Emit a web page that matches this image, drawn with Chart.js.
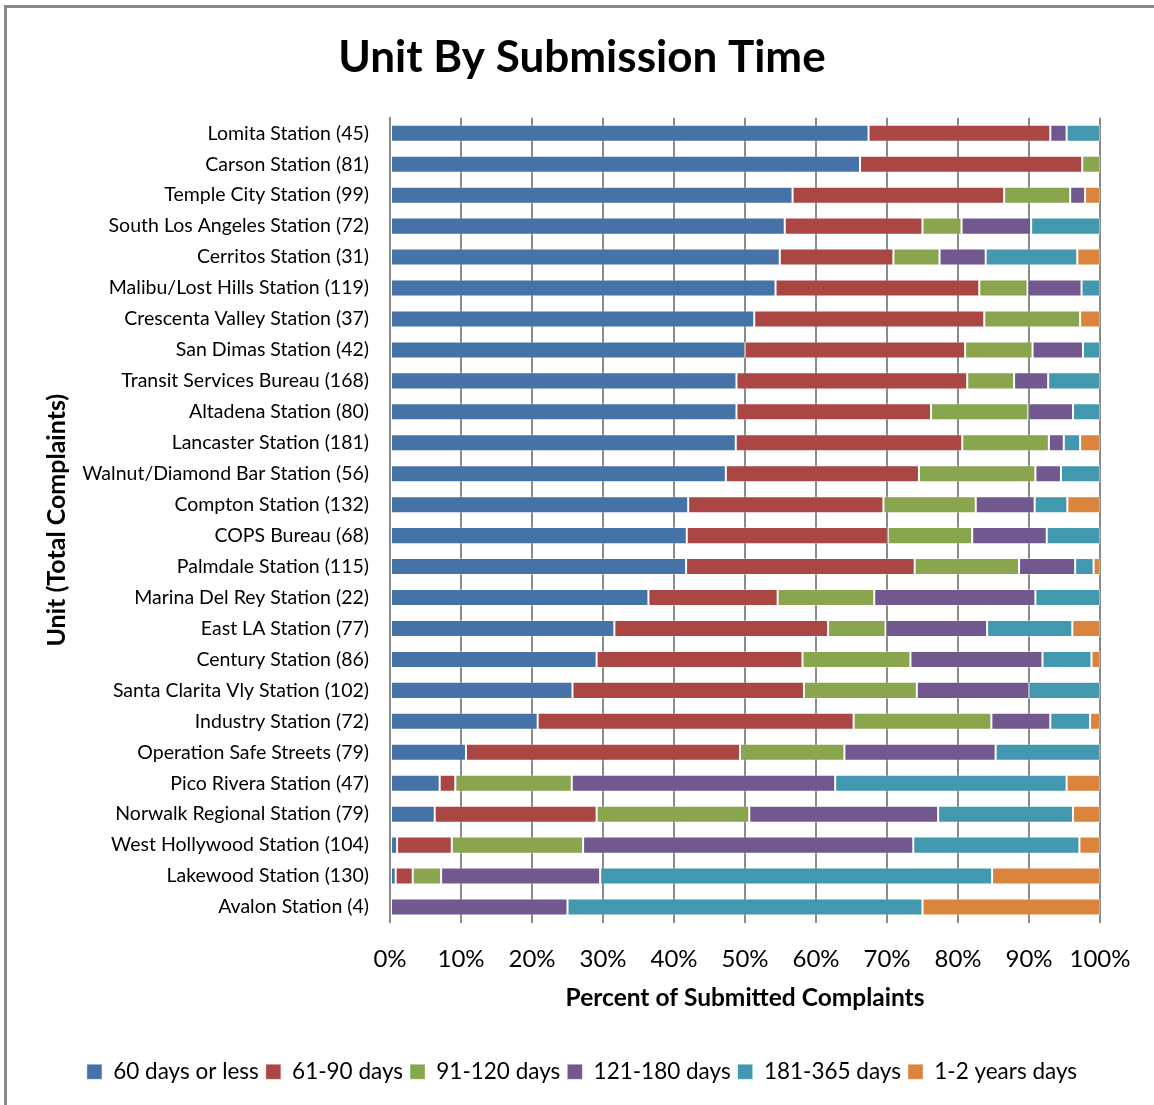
<!DOCTYPE html>
<html>
<head>
<meta charset="utf-8">
<script src="https://cdn.jsdelivr.net/npm/chart.js@4.4.0/dist/chart.umd.min.js"></script>
<style>
  html, body { margin: 0; padding: 0; background: #fff; }
  #wrap { position: relative; width: 1154px; height: 1105px; }
  #frame { position: absolute; left: 4px; top: 5px; right: -10px; bottom: -10px;
           border-left: 3px solid #8a8a8a; border-top: 3px solid #8a8a8a; pointer-events: none; }
  canvas { position: absolute; left: 0; top: 0; }
</style>
</head>
<body>
<div id="wrap">
  <canvas id="canvas" width="1154" height="1105"></canvas>
  <div id="frame"></div>
</div>
<script>
const units = [
    'Lomita Station (45)',
    'Carson Station (81)',
    'Temple City Station (99)',
    'South Los Angeles Station (72)',
    'Cerritos Station (31)',
    'Malibu/Lost Hills Station (119)',
    'Crescenta Valley Station (37)',
    'San Dimas Station (42)',
    'Transit Services Bureau (168)',
    'Altadena Station (80)',
    'Lancaster Station (181)',
    'Walnut/Diamond Bar Station (56)',
    'Compton Station (132)',
    'COPS Bureau (68)',
    'Palmdale Station (115)',
    'Marina Del Rey Station (22)',
    'East LA Station (77)',
    'Century Station (86)',
    'Santa Clarita Vly Station (102)',
    'Industry Station (72)',
    'Operation Safe Streets (79)',
    'Pico Rivera Station (47)',
    'Norwalk Regional Station (79)',
    'West Hollywood Station (104)',
    'Lakewood Station (130)',
    'Avalon Station (4)'
];

// percent of complaints per unit
const days60 = [67.4, 66.2, 56.7, 55.6, 54.9, 54.3, 51.3, 50.0, 48.8, 48.8, 48.7, 47.3, 42.0, 41.8, 41.7, 36.4, 31.6, 29.1, 25.7, 20.8, 10.7, 7.0, 6.3, 1.0, 0.8, 0];
const days61to90 = [25.6, 31.3, 29.8, 19.4, 16.0, 28.7, 32.4, 31.0, 32.5, 27.4, 31.9, 27.2, 27.5, 28.3, 32.2, 18.2, 30.1, 29.0, 32.6, 44.5, 38.6, 2.2, 22.8, 7.7, 2.4, 0];
const days91to120 = [0, 2.5, 9.3, 5.5, 6.5, 6.8, 13.5, 9.5, 6.6, 13.7, 12.2, 16.4, 13.0, 11.9, 14.7, 13.6, 8.1, 15.2, 15.9, 19.4, 14.7, 16.4, 21.5, 18.5, 4.0, 0];
const days121to180 = [2.3, 0, 2.1, 9.8, 6.5, 7.6, 0, 7.1, 4.8, 6.3, 2.1, 3.6, 8.3, 10.5, 7.9, 22.7, 14.3, 18.6, 15.8, 8.3, 21.3, 37.1, 26.6, 46.5, 22.4, 25];
const days181to365 = [4.7, 0, 0, 9.7, 12.9, 2.6, 0, 2.4, 7.3, 3.8, 2.3, 5.5, 4.6, 7.5, 2.6, 9.1, 12.0, 6.9, 10.0, 5.6, 14.7, 32.6, 19.0, 23.4, 55.2, 50];
const years1to2 = [0, 0, 2.1, 0, 3.2, 0, 2.8, 0, 0, 0, 2.8, 0, 4.6, 0, 0.9, 0, 3.9, 1.2, 0, 1.4, 0, 4.7, 3.8, 2.9, 15.2, 25];

const seriesNames = ['60 days or less', '61-90 days', '91-120 days', '121-180 days', '181-365 days', '1-2 years days'];
const seriesData = [days60, days61to90, days91to120, days121to180, days181to365, years1to2];
const colors = ['#4572A7', '#AA4643', '#89A54E', '#71588F', '#4198AF', '#DB843D'];

const FONT = 'Lato, "Noto Sans", sans-serif';

const datasets = seriesNames.map((name, i) => ({
    label: name,
    data: seriesData[i],
    backgroundColor: colors[i],
    borderColor: 'rgba(255,255,255,0.35)',
    borderWidth: 1,
    borderSkipped: false,
    barPercentage: 0.55,
    categoryPercentage: 1
}));

const ctx = document.getElementById('canvas').getContext('2d');
const myChart = new Chart(ctx, {
    type: 'bar',
    data: {
        labels: units,
        datasets: datasets
    },
    options: {
        indexAxis: 'y',
        responsive: false,
        animation: false,
        layout: {
            padding: { left: 64, right: 54, top: 0, bottom: 12 }
        },
        plugins: {
            tooltip: { enabled: false },
            title: {
                display: true,
                text: 'Unit By Submission Time',
                color: '#000',
                font: { family: FONT, size: 44, weight: 'bold', lineHeight: 1.2 },
                padding: { top: 31, bottom: 34 }
            },
            legend: {
                position: 'bottom',
                labels: {
                    color: '#000',
                    font: { family: FONT, size: 22.5 },
                    boxWidth: 15,
                    boxHeight: 15,
                    padding: 7
                }
            }
        },
        scales: {
            x: {
                stacked: true,
                min: 0,
                max: 100,
                afterFit: function(scale) { scale.height = 131; },
                ticks: {
                    stepSize: 10,
                    padding: 22,
                    color: '#000',
                    font: { family: FONT, size: 24 },
                    callback: v => v + '%'
                },
                grid: {
                    color: '#8a8a8a',
                    lineWidth: 2,
                    drawTicks: false
                },
                border: { display: false },
                title: {
                    display: true,
                    text: 'Percent of Submitted Complaints',
                    color: '#000',
                    font: { family: FONT, size: 24.5, weight: 'bold', lineHeight: 1.2 },
                    padding: { top: 0, bottom: 41 }
                }
            },
            y: {
                stacked: true,
                afterFit: function(scale) { scale.width = 390 - 64; },
                ticks: {
                    padding: 21,
                    color: '#000',
                    font: { family: FONT, size: 19.5 }
                },
                grid: { display: false, drawTicks: false },
                border: { display: true, color: '#8a8a8a', width: 2 },
                title: {
                    display: true,
                    text: 'Unit (Total Complaints)',
                    color: '#000',
                    font: { family: FONT, size: 25, weight: 'bold', lineHeight: 1.2 },
                    padding: { top: -22, bottom: 0 }
                }
            }
        }
    }
});
</script>
</body>
</html>
